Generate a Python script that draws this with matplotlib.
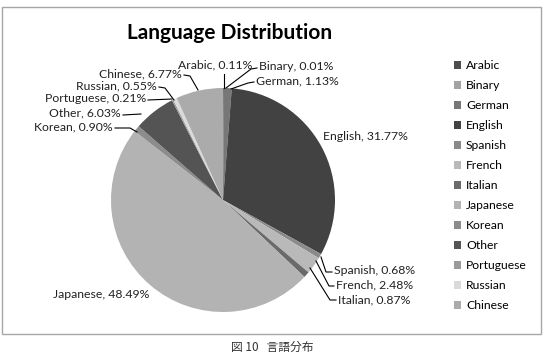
import matplotlib.pyplot as plt
from matplotlib.patches import Rectangle

plt.rcParams['font.family'] = ['Lato', 'DejaVu Sans']

languages = ['Arabic', 'Binary', 'German', 'English', 'Spanish', 'French', 'Italian',
             'Japanese', 'Korean', 'Other', 'Portuguese', 'Russian', 'Chinese']
shares = [0.11, 0.01, 1.13, 31.77, 0.68, 2.48, 0.87, 48.49, 0.90, 6.03, 0.21, 0.55, 6.77]
colors = ['#4d4d4d', '#a3a3a3', '#777777', '#424242', '#8a8a8a', '#b9b9b9', '#6a6a6a',
          '#b3b3b3', '#8c8c8c', '#545454', '#9a9a9a', '#dadada', '#ababab']

W, H = 544, 353


def fy(y):
    # pixel row (from top) -> data y
    return H - y


# label placement: text anchor x, y, alignment, leader line points (pixels)
label_pos = {
    'Arabic': (178, 65, 'left', [(224, 74), (224, 88)]),
    'Binary': (259, 67, 'left', [(257, 68), (251, 69), (226, 88)]),
    'German': (256, 81, 'left', [(254, 82), (248, 83), (231, 89)]),
    'English': (323, 137, 'left', None),
    'Spanish': (334, 271, 'left', [(332, 272), (326, 272), (321, 257)]),
    'French': (336, 285, 'left', [(334, 286), (329, 286), (316, 261)]),
    'Italian': (338, 300, 'left', [(336, 300), (330, 300), (310, 268)]),
    'Japanese': (53, 294, 'left', None),
    'Korean': (113, 127, 'right', [(115, 128), (130, 128), (137, 132)]),
    'Other': (121, 113, 'right', [(123, 115), (141, 114)]),
    'Portuguese': (146, 99, 'right', [(148, 100), (172, 99)]),
    'Russian': (157, 86, 'right', [(159, 87), (165, 88), (174, 100)]),
    'Chinese': (182, 74, 'right', [(184, 75), (190, 76), (198, 90)]),
}

fig = plt.figure(figsize=(W / 100, H / 100), dpi=100)
ax = fig.add_axes([0, 0, 1, 1])

wedges, _ = ax.pie(shares, colors=colors, startangle=90, counterclock=False,
                   center=(223, fy(200)), radius=112,
                   wedgeprops={'linewidth': 0})

ax.set_xlim(0, W)
ax.set_ylim(0, H)
ax.set_aspect('equal')
ax.axis('off')

# chart frame
ax.add_patch(Rectangle((2, fy(334)), 539, 327, fill=False, edgecolor='#a6a6a6', linewidth=1))

ax.text(230, fy(33), 'Language Distribution', fontsize=15, fontweight='bold',
        ha='center', va='center', color='black')

for name, val in zip(languages, shares):
    tx, ty, ha, pts = label_pos[name]
    ax.text(tx, fy(ty), '%s, %.2f%%' % (name, val), fontsize=8.8, ha=ha, va='center',
            color='#222222')
    if pts:
        ax.plot([p[0] for p in pts], [fy(p[1]) for p in pts], color='black', linewidth=0.8)

ax.legend(wedges, languages, loc='upper left', bbox_to_anchor=(448 / W, 1 - 54 / H),
          frameon=False, fontsize=8.7, handlelength=0.6, handleheight=0.6,
          handletextpad=0.4, labelspacing=0.745, borderpad=0)

ax.text(272, fy(347), '図 10   言語分布', fontsize=8.5, ha='center', va='center',
        color='#333333', family=['Noto Sans CJK JP', 'DejaVu Sans'])

fig.savefig('out.png', dpi=100)
